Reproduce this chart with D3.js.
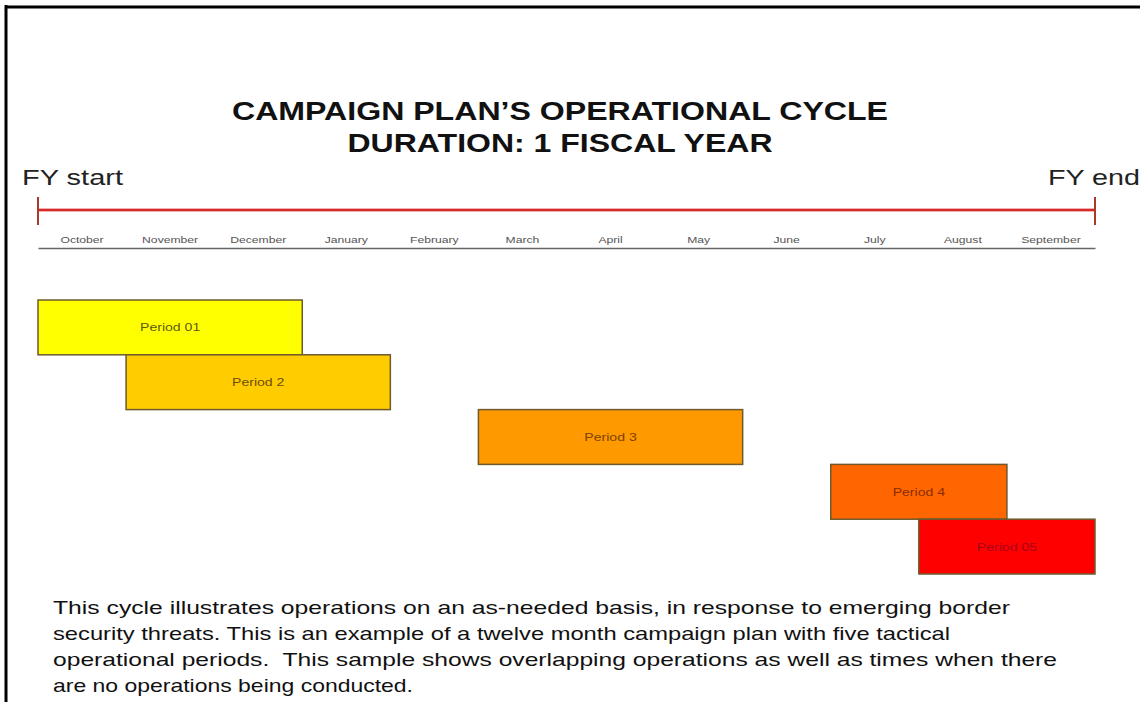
<!DOCTYPE html>
<html>
<head>
<meta charset="utf-8">
<script src="https://cdn.jsdelivr.net/npm/d3@7/dist/d3.min.js"></script>
<style>
  html, body { margin: 0; padding: 0; background: #fff; }
  svg { display: block; }
  text { font-family: Arial, "Liberation Sans", Helvetica, sans-serif; }
</style>
</head>
<body>
<svg id="chart" width="1140" height="702"></svg>
<script>
// ---- data ----
const titleLines = ["CAMPAIGN PLAN\u2019S OPERATIONAL CYCLE", "DURATION: 1 FISCAL YEAR"];
const months = ["October", "November", "December", "January", "February", "March",
                "April", "May", "June", "July", "August", "September"];
const periodNames = ["Period 01", "Period 2", "Period 3", "Period 4", "Period 05"];
const periodStart = [0, 1, 5, 9, 10];   // month index (0 = start of October)
const periodEnd   = [3, 4, 8, 11, 12];
const periodColors = ["#ffff00", "#ffcc00", "#ff9900", "#ff6600", "#ff0000"];
const periodTextColors = ["#5e5a14", "#6e4c08", "#7a4200", "#8a2c00", "#a8001a"];
const fyLabels = ["FY start", "FY end"];
const noteLines = [
  "This cycle illustrates operations on an as-needed basis, in response to emerging border",
  "security threats. This is an example of a twelve month campaign plan with five tactical",
  "operational periods.  This sample shows overlapping operations as well as times when there",
  "are no operations being conducted."
];

// ---- layout ----
const svg = d3.select("#chart");
const left = 38, right = 1095;
const sx = 1.28; // horizontal glyph stretch seen in the reference

const x = d3.scaleLinear().domain([0, 12]).range([left, right]);
const xm = d3.scaleBand().domain(months).range([left, right]);
const y = d3.scaleBand().domain(d3.range(periodNames.length)).range([300, 574]).paddingInner(0);

// frame lines
svg.append("line").attr("x1", 5).attr("x2", 1140).attr("y1", 7).attr("y2", 7)
  .attr("stroke", "#000").attr("stroke-width", 3);
svg.append("line").attr("x1", 6).attr("x2", 6).attr("y1", 5).attr("y2", 702)
  .attr("stroke", "#000").attr("stroke-width", 3);

// title
const titleW = [656, 425];
svg.selectAll("text.title").data(titleLines).join("text")
  .attr("class", "title")
  .attr("x", 560).attr("y", (d, i) => 120 + i * 32)
  .attr("text-anchor", "middle")
  .attr("font-size", 26).attr("font-weight", "bold").attr("fill", "#111")
  .attr("textLength", (d, i) => titleW[i]).attr("lengthAdjust", "spacingAndGlyphs")
  .text(d => d);

// FY labels
svg.append("text").attr("x", 22).attr("y", 185).attr("font-size", 22).attr("fill", "#222")
  .attr("textLength", 101).attr("lengthAdjust", "spacingAndGlyphs").text(fyLabels[0]);
svg.append("text").attr("x", 1048).attr("y", 185).attr("font-size", 22).attr("fill", "#222")
  .attr("textLength", 92).attr("lengthAdjust", "spacingAndGlyphs").text(fyLabels[1]);

// red fiscal-year line
svg.append("line").attr("x1", x(0)).attr("x2", x(12)).attr("y1", 210).attr("y2", 210)
  .attr("stroke", "#f2b0b0").attr("stroke-width", 4);
svg.append("line").attr("x1", x(0)).attr("x2", x(12)).attr("y1", 210).attr("y2", 210)
  .attr("stroke", "#d42a2a").attr("stroke-width", 1.8);
svg.selectAll("line.fytick").data([0, 12]).join("line")
  .attr("class", "fytick")
  .attr("x1", d => x(d)).attr("x2", d => x(d)).attr("y1", 197).attr("y2", 225)
  .attr("stroke", "#a83a28").attr("stroke-width", 2);

// month axis
const axis = svg.append("g").attr("transform", "translate(0,248)")
  .call(d3.axisTop(xm).tickSize(0).tickSizeOuter(0).tickPadding(5));
axis.select(".domain").attr("stroke", "#666").attr("stroke-width", 1.5);
axis.selectAll(".tick text")
  .attr("font-size", 9.5).attr("fill", "#555")
  .attr("font-family", "Arial, 'Liberation Sans', sans-serif")
  .attr("transform", `scale(${sx},1)`);

// period bars
const bars = svg.append("g");
bars.selectAll("rect").data(periodNames).join("rect")
  .attr("x", (d, i) => x(periodStart[i]))
  .attr("y", (d, i) => y(i))
  .attr("width", (d, i) => x(periodEnd[i]) - x(periodStart[i]))
  .attr("height", y.bandwidth())
  .attr("fill", (d, i) => periodColors[i])
  .attr("stroke", "#6e5a2c").attr("stroke-width", 1.5);

bars.selectAll("text").data(periodNames).join("text")
  .attr("transform", (d, i) =>
    `translate(${(x(periodStart[i]) + x(periodEnd[i])) / 2},${y(i) + y.bandwidth() / 2 + 4}) scale(${sx},1)`)
  .attr("text-anchor", "middle")
  .attr("font-size", 11)
  .attr("fill", (d, i) => periodTextColors[i])
  .text(d => d);

// note paragraph
const noteW = [957, 897, 1004, 360];
svg.selectAll("text.note").data(noteLines).join("text")
  .attr("class", "note")
  .attr("x", 53).attr("y", (d, i) => 614 + i * 26)
  .attr("font-size", 19).attr("fill", "#111")
  .style("white-space", "pre")
  .attr("textLength", (d, i) => noteW[i]).attr("lengthAdjust", "spacingAndGlyphs")
  .text(d => d);
</script>
</body>
</html>
